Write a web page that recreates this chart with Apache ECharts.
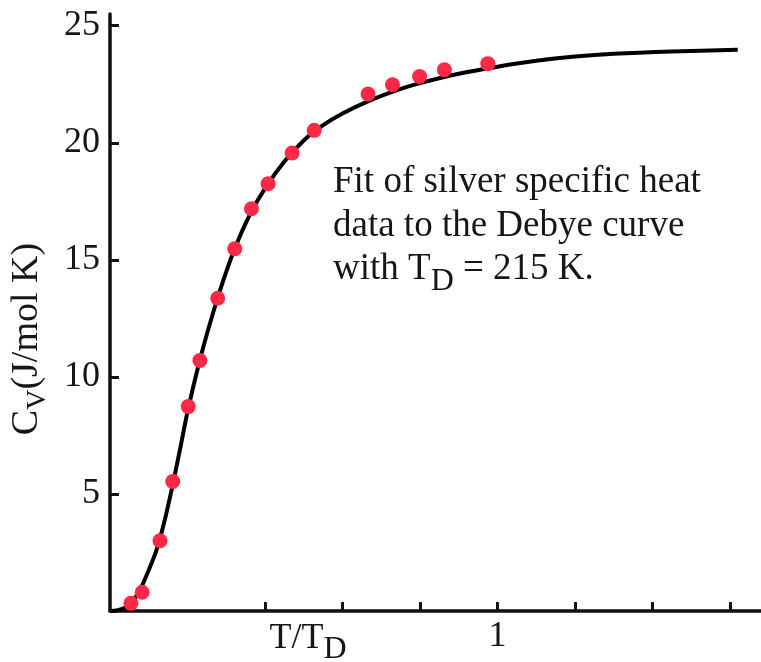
<!DOCTYPE html>
<html>
<head>
<meta charset="utf-8">
<script src="https://cdn.jsdelivr.net/npm/echarts@6/dist/echarts.min.js"></script>
<style>
  html, body { margin: 0; padding: 0; background: #ffffff; }
  #chart { width: 761px; height: 662px; }
</style>
</head>
<body>
<div id="chart"></div>
<script>
// Measured silver specific heat, T/T_D against C_V (J/mol K)
const measuredRatio = [0.054, 0.083, 0.129, 0.162, 0.202, 0.232, 0.278, 0.322, 0.365, 0.408, 0.470, 0.527, 0.666, 0.729, 0.799, 0.863, 0.975];
const measuredHeat  = [0.33, 0.80, 3.00, 5.53, 8.73, 10.70, 13.36, 15.47, 17.18, 18.25, 19.56, 20.53, 22.08, 22.48, 22.83, 23.12, 23.38];

// Debye curve for T_D = 215 K
const debyeRatio = [0, 0.02, 0.04, 0.06, 0.08, 0.10, 0.12, 0.14, 0.16, 0.18, 0.20, 0.23, 0.26, 0.29, 0.32, 0.36, 0.40, 0.45, 0.50, 0.55, 0.60, 0.67, 0.75, 0.80, 0.90, 1.00, 1.10, 1.20, 1.30, 1.45, 1.62];
const debyeHeat  = [0, 0.03, 0.15, 0.45, 1.00, 1.75, 2.60, 3.80, 5.25, 6.85, 8.50, 10.60, 12.40, 14.00, 15.40, 16.90, 18.05, 19.20, 20.10, 20.75, 21.25, 21.80, 22.30, 22.55, 22.95, 23.25, 23.50, 23.68, 23.80, 23.90, 23.97];

// Axis ticks and labels
const yTickValues = [5, 10, 15, 20, 25];
const xTickValues = [0.4, 0.6, 0.8, 1.0, 1.2, 1.4, 1.6];
const xLabelValues = [1];

const SERIF = '"Liberation Serif", "DejaVu Serif", serif';
const INK = '#111111';
const TEXT = '#161616';

const chart = echarts.init(document.getElementById('chart'), null, { renderer: 'canvas' });

chart.setOption({
  animation: false,
  backgroundColor: '#ffffff',
  grid: { left: 110, right: 0, top: 14, bottom: 51, containLabel: false },
  xAxis: {
    type: 'value',
    min: 0,
    max: 1.68,
    splitLine: { show: false },
    axisLine: { show: true, lineStyle: { color: INK, width: 3.5 } },
    axisTick: {
      show: true, inside: true, length: 9,
      customValues: xTickValues,
      lineStyle: { color: INK, width: 3 }
    },
    axisLabel: {
      customValues: xLabelValues,
      margin: 8,
      fontFamily: SERIF, fontSize: 36, color: TEXT,
      formatter: v => String(v)
    }
  },
  yAxis: {
    type: 'value',
    min: 0,
    max: 25.5,
    splitLine: { show: false },
    axisLine: { show: true, lineStyle: { color: INK, width: 3.5 } },
    axisTick: {
      show: true, inside: true, length: 9,
      customValues: yTickValues,
      lineStyle: { color: INK, width: 3 }
    },
    axisLabel: {
      customValues: yTickValues,
      margin: 10,
      fontFamily: SERIF, fontSize: 36, color: TEXT
    }
  },
  series: [
    {
      name: 'Debye curve',
      type: 'line',
      data: debyeRatio.map((x, i) => [x, debyeHeat[i]]),
      showSymbol: false,
      smooth: 0.3,
      lineStyle: { color: '#000000', width: 4 },
      z: 2
    },
    {
      name: 'Silver',
      type: 'scatter',
      data: measuredRatio.map((x, i) => [x, measuredHeat[i]]),
      symbol: 'circle',
      symbolSize: 15,
      itemStyle: { color: '#ff2846', opacity: 1 },
      z: 3
    }
  ],
  graphic: [
    // y-axis title, reading upwards
    {
      type: 'text',
      x: 27, y: 339,
      rotation: Math.PI / 2,
      style: {
        text: '{m|C}{s|V}{m|(J/mol K)}',
        align: 'center', verticalAlign: 'middle',
        rich: {
          m: { fontFamily: SERIF, fontSize: 38, lineHeight: 42, fill: TEXT },
          s: { fontFamily: SERIF, fontSize: 28, padding: [22, 0, 0, 0], fill: TEXT }
        }
      }
    },
    // x-axis title
    {
      type: 'text',
      x: 308, y: 639,
      style: {
        text: '{m|T/T}{s|D}',
        align: 'center', verticalAlign: 'middle',
        rich: {
          m: { fontFamily: SERIF, fontSize: 36, lineHeight: 40, fill: TEXT },
          s: { fontFamily: SERIF, fontSize: 32, padding: [22, 0, 0, 0], fill: TEXT }
        }
      }
    },
    // note about the fit
    {
      type: 'text', x: 333, y: 182,
      style: { text: 'Fit of silver specific heat', fontFamily: SERIF, fontSize: 37, fill: TEXT, align: 'left', verticalAlign: 'middle' }
    },
    {
      type: 'text', x: 333, y: 226,
      style: { text: 'data to the Debye curve', fontFamily: SERIF, fontSize: 37, fill: TEXT, align: 'left', verticalAlign: 'middle' }
    },
    {
      type: 'text', x: 333, y: 269,
      style: {
        text: '{m|with T}{s|D}{m| = 215 K.}',
        align: 'left', verticalAlign: 'middle',
        rich: {
          m: { fontFamily: SERIF, fontSize: 37, lineHeight: 40, fill: TEXT },
          s: { fontFamily: SERIF, fontSize: 32, padding: [26, 0, 0, 0], fill: TEXT }
        }
      }
    }
  ]
});
</script>
</body>
</html>
